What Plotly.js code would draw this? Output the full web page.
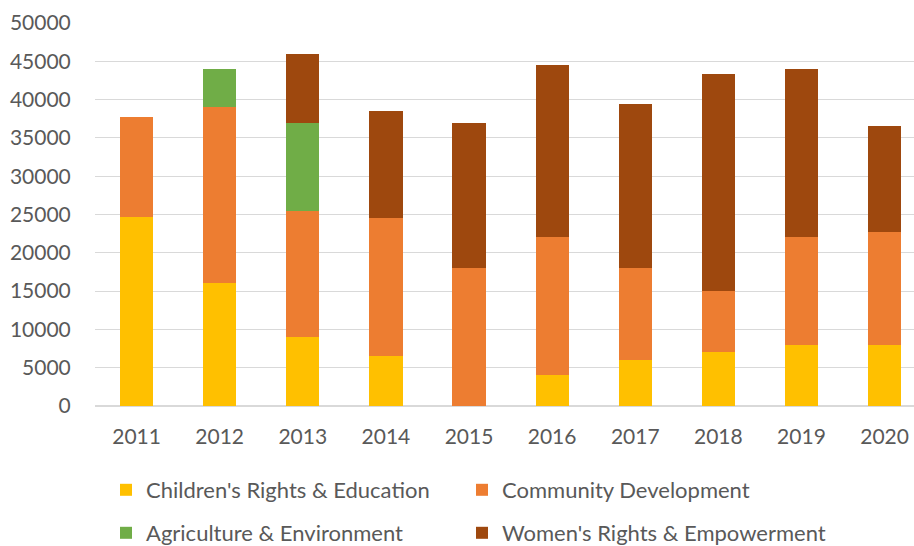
<!DOCTYPE html>
<html>
<head>
<meta charset="utf-8">
<script src="https://cdn.plot.ly/plotly-3.0.1.min.js"></script>
<style>html,body{margin:0;padding:0;background:#fff;}#chart{width:914px;height:546px;}</style>
</head>
<body>
<div id="chart"></div>
<script>
var years = ['2011','2012','2013','2014','2015','2016','2017','2018','2019','2020'];
var childrenRights = [24700, 16000, 9000, 6500, 0, 4000, 6000, 7000, 8000, 8000];
var communityDev   = [13000, 23000, 16500, 18000, 18000, 18000, 12000, 8000, 14000, 14700];
var agriculture    = [0, 5000, 11500, 0, 0, 0, 0, 0, 0, 0];
var womensRights   = [0, 0, 9000, 14000, 19000, 22500, 21400, 28300, 22000, 13900];
var yTicks = [0, 5000, 10000, 15000, 20000, 25000, 30000, 35000, 40000, 45000, 50000];

var font = {family: 'Lato, "Open Sans", sans-serif', size: 21, color: '#595959'};
var legFont = {family: 'Lato, "Open Sans", sans-serif', size: 22, color: '#595959'};
function tr(name, vals, color, leg) {
  return {type: 'bar', name: name, x: years, y: vals, legend: leg,
    marker: {color: color, line: {width: 0}}, hoverinfo: 'none'};
}
var data = [
  tr("Children's Rights & Education", childrenRights, '#FFC000', 'legend'),
  tr('Community Development', communityDev, '#ED7D31', 'legend2'),
  tr('Agriculture & Environment', agriculture, '#70AD47', 'legend3'),
  tr("Women's Rights & Empowerment", womensRights, '#9E480E', 'legend4')
];
function leg(px, py) {
  return {orientation: 'h', xref: 'container', yref: 'container', xanchor: 'left', yanchor: 'middle',
    font: legFont, bgcolor: 'rgba(0,0,0,0)', x: px / 914, y: 1 - py / 546};
}
var layout = {
  width: 914, height: 546,
  margin: {l: 95, r: 0, t: 23, b: 140},
  paper_bgcolor: '#fff', plot_bgcolor: '#fff',
  font: font,
  barmode: 'stack', bargap: 0.6,
  xaxis: {type: 'category', range: [-0.5, 9.354], showgrid: false, zeroline: false, showline: false,
    ticks: 'outside', ticklen: 12, tickcolor: 'rgba(0,0,0,0)', tickfont: font, fixedrange: true},
  yaxis: {range: [0, 50000], tickvals: yTicks, ticktext: yTicks.map(String), showgrid: true,
    gridcolor: '#D9D9D9', gridwidth: 1, zeroline: true, zerolinecolor: '#D9D9D9', zerolinewidth: 1.5,
    ticks: 'outside', ticklen: 19, tickcolor: 'rgba(0,0,0,0)', tickfont: font, fixedrange: true},
  legend: leg(106, 490),
  legend2: leg(462, 490),
  legend3: leg(106, 533),
  legend4: leg(462, 533),
  showlegend: true
};
Plotly.newPlot('chart', data, layout, {displayModeBar: false, staticPlot: true});
</script>
</body>
</html>
